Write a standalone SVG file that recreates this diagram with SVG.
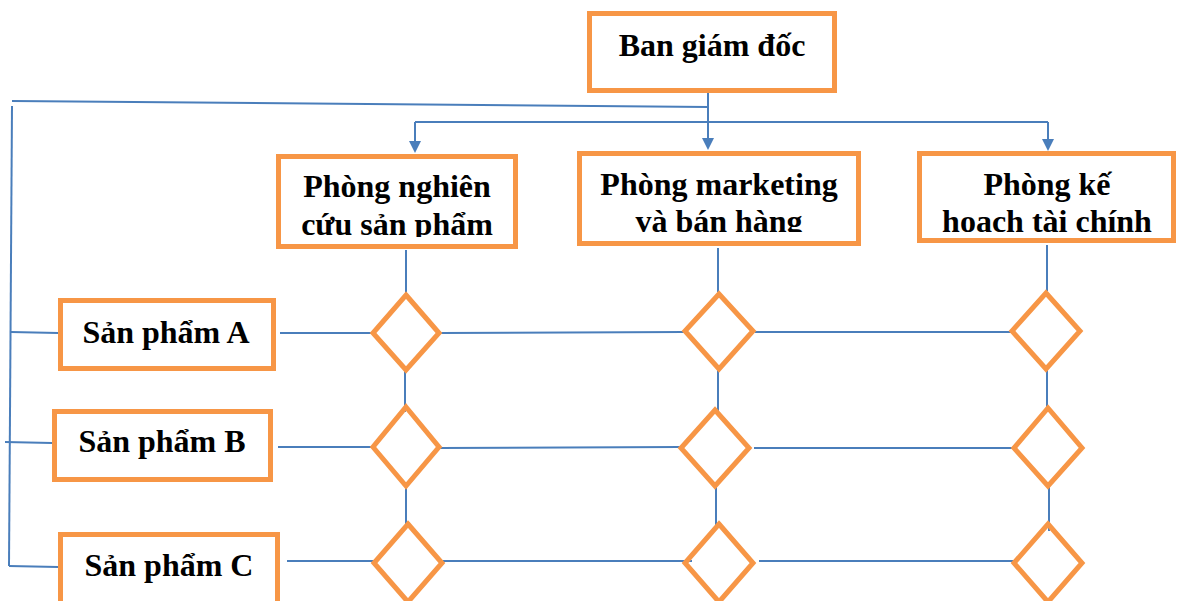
<svg xmlns="http://www.w3.org/2000/svg" width="1181" height="601" viewBox="0 0 1181 601">
  <style>
    .box { fill: #ffffff; stroke: #F79646; stroke-width: 5; }
    .dia { fill: none; stroke: #F79646; stroke-width: 5; stroke-linejoin: miter; }
    .ln { fill: none; stroke: #4A7EBB; stroke-width: 2; }
    .t { font-family: "Liberation Serif", "Times New Roman", serif; font-weight: bold; font-size: 32px; fill: #000; text-anchor: middle; }
  </style>
  <defs>
    <clipPath id="c1"><rect x="279" y="158" width="235" height="79"/></clipPath>
    <clipPath id="c2"><rect x="580" y="155" width="277" height="77"/></clipPath>
    <clipPath id="c3"><rect x="920" y="155" width="252" height="77"/></clipPath>
  </defs>

  <!-- connectors -->
  <g id="connectors">
    <!-- from management down -->
    <path class="ln" d="M708,92 L708,140"/>
    <path d="M702,138 L714,138 L708,150 Z" fill="#4A7EBB"/>
    <path class="ln" d="M415,122 L1048,122"/>
    <path class="ln" d="M415,122 L415,142"/>
    <path d="M409,141 L421,141 L415,153 Z" fill="#4A7EBB"/>
    <path class="ln" d="M1048,122 L1048,140"/>
    <path d="M1042,139 L1054,139 L1048,151 Z" fill="#4A7EBB"/>
    <!-- long bus to the products -->
    <path class="ln" d="M12,101 L708,107"/>
    <path class="ln" d="M12,106 L9,566"/>
    <path class="ln" d="M11,332 L58,333"/>
    <path class="ln" d="M5,442 L52,443"/>
    <path class="ln" d="M9,566 L58,567"/>
    <!-- department columns -->
    <path class="ln" d="M406,250 L406,293"/>
    <path class="ln" d="M718,248 L718,292"/>
    <path class="ln" d="M1047,245 L1047,291"/>
    <path class="ln" d="M405,371 L405,412"/>
    <path class="ln" d="M406,487 L406,528"/>
    <path class="ln" d="M718,370 L718,411"/>
    <path class="ln" d="M716,487 L716,530"/>
    <path class="ln" d="M1047,366 L1047,409"/>
    <path class="ln" d="M1049,487 L1049,531"/>
    <!-- product rows -->
    <path class="ln" d="M280,333 L372,333"/>
    <path class="ln" d="M441,333 L684,332"/>
    <path class="ln" d="M755,332 L1012,332"/>
    <path class="ln" d="M278,447 L375,447"/>
    <path class="ln" d="M440,448 L680,447"/>
    <path class="ln" d="M754,448 L1013,448"/>
    <path class="ln" d="M287,561 L378,561"/>
    <path class="ln" d="M443,561 L692,561"/>
    <path class="ln" d="M759,561 L1015,561"/>
  </g>

  <g id="ban-giam-doc">
    <rect class="box" x="589.5" y="13.5" width="245" height="77"/>
    <text class="t" x="712" y="56">Ban giám đốc</text>
  </g>

  <g id="phong-nghien-cuu">
    <rect class="box" x="278.5" y="156.5" width="237" height="90"/>
    <g clip-path="url(#c1)">
      <text class="t" x="397" y="197">Phòng nghiên</text>
      <text class="t" x="397" y="235">cứu sản phẩm</text>
    </g>
  </g>

  <g id="phong-marketing">
    <rect class="box" x="579.5" y="153.5" width="279" height="90"/>
    <g clip-path="url(#c2)">
      <text class="t" x="719" y="195">Phòng marketing</text>
      <text class="t" x="719" y="232">và bán hàng</text>
    </g>
  </g>

  <g id="phong-ke-hoach">
    <rect class="box" x="919.5" y="153.5" width="254" height="87"/>
    <g clip-path="url(#c3)">
      <text class="t" x="1047" y="195">Phòng kế</text>
      <text class="t" x="1047" y="232">hoach tài chính</text>
    </g>
  </g>

  <g id="san-pham-a">
    <rect class="box" x="60.5" y="300.5" width="213" height="68"/>
    <text class="t" x="166" y="343">Sản phẩm A</text>
  </g>
  <g id="san-pham-b">
    <rect class="box" x="54.5" y="411.5" width="216" height="68"/>
    <text class="t" x="162" y="452">Sản phẩm B</text>
  </g>
  <g id="san-pham-c">
    <rect class="box" x="60.5" y="534.5" width="217" height="72"/>
    <text class="t" x="169" y="576">Sản phẩm C</text>
  </g>

  <!-- decision diamonds -->
  <g id="d-a1"><path class="dia" d="M406,295 L439,333 L406,370 L373,333 Z"/></g>
  <g id="d-a2"><path class="dia" d="M719,294 L753,331 L719,369 L685,331 Z"/></g>
  <g id="d-a3"><path class="dia" d="M1046,293 L1080,331 L1046,369 L1012,331 Z"/></g>
  <g id="d-b1"><path class="dia" d="M406,407 L439,447 L406,486 L373,447 Z"/></g>
  <g id="d-b2"><path class="dia" d="M715,410 L749,448 L715,486 L681,448 Z"/></g>
  <g id="d-b3"><path class="dia" d="M1048,408 L1082,448 L1048,486 L1014,448 Z"/></g>
  <g id="d-c1"><path class="dia" d="M408,524 L442,563 L408,602 L374,563 Z"/></g>
  <g id="d-c2"><path class="dia" d="M719,524 L753,563 L719,602 L685,563 Z"/></g>
  <g id="d-c3"><path class="dia" d="M1048,524 L1082,563 L1048,602 L1014,563 Z"/></g>
</svg>
